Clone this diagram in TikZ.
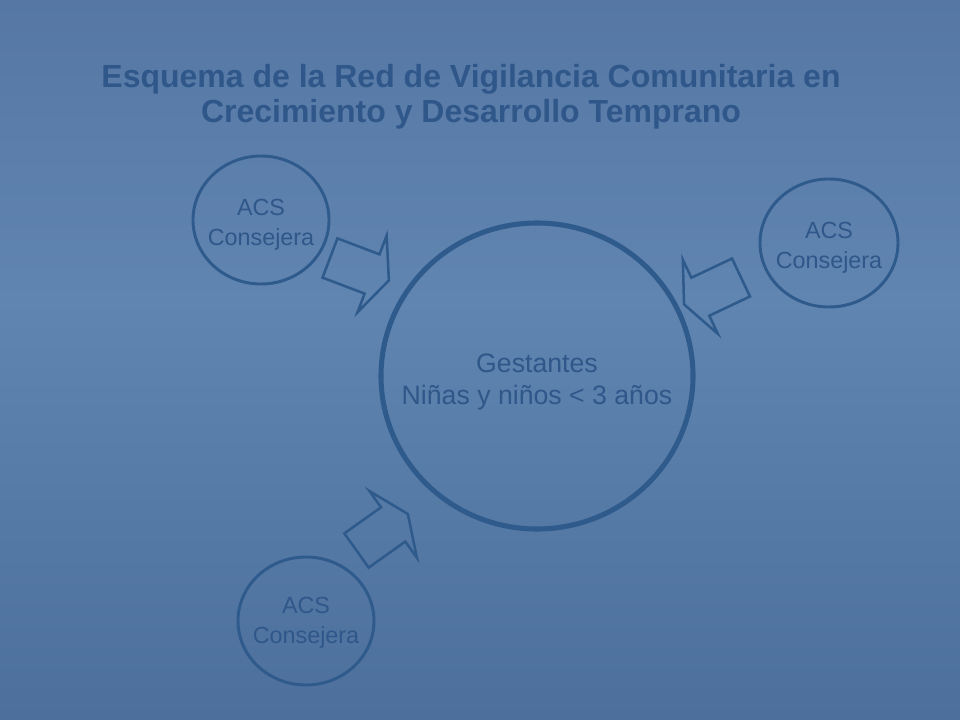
\documentclass[tikz,border=0pt]{standalone}
\usepackage{fontspec}
\setmainfont{Liberation Sans}
\usetikzlibrary{calc}
\definecolor{bgtop}{HTML}{5677A4}
\definecolor{bgmid}{HTML}{6085B0}
\definecolor{bgbot}{HTML}{4C6F9C}
\definecolor{ink}{HTML}{2F5A8C}
\definecolor{txt}{HTML}{30578A}
\tikzset{
  bigcirc/.style={draw=ink, line width=3.8pt},
  smallcirc/.style={draw=ink, line width=2.2pt},
  lbl/.style={text=txt, align=center},
  blockarrow/.style={draw=ink, line width=1.9pt, line join=miter},
}
\newcommand{\blockarrowshape}{(0,-21) -- (45,-21) -- (45,-41) -- (63,0) -- (45,41) -- (45,21) -- (0,21) -- cycle}
\begin{document}
\begin{tikzpicture}[x=0.75pt,y=-0.75pt]
\useasboundingbox (0,0) rectangle (960,720);
\shade[top color=bgtop, bottom color=bgmid] (0,0) rectangle (960,300);
\shade[top color=bgmid, bottom color=bgbot] (0,300) rectangle (960,720);

% title
\node[lbl, font=\bfseries\fontsize{24}{26.5}\selectfont] (title) at (471,97)
  {Esquema de la Red de Vigilancia Comunitaria en\\Crecimiento y Desarrollo Temprano};

% central circle
\draw[bigcirc] (537,376) ellipse (156 and 153);
\node[lbl, font=\fontsize{20}{24}\selectfont] (center) at (537,382)
  {Gestantes\\Niñas y niños < 3 años};

% small circles
\draw[smallcirc] (261,220) ellipse (68 and 64);
\node[lbl, font=\fontsize{17.5}{22.5}\selectfont] (acs1) at (261,225) {ACS\\Consejera};
\draw[smallcirc] (829,243) ellipse (69 and 64);
\node[lbl, font=\fontsize{17.5}{22.5}\selectfont] (acs2) at (829,248) {ACS\\Consejera};
\draw[smallcirc] (306,621) ellipse (68 and 64);
\node[lbl, font=\fontsize{17.5}{22.5}\selectfont] (acs3) at (306,623) {ACS\\Consejera};

% block arrows
\begin{scope}[shift={(330,258)}, rotate=-20.8]
  \draw[blockarrow] \blockarrowshape;
\end{scope}
\begin{scope}[shift={(741,277.5)}, rotate=-154.7]
  \draw[blockarrow] \blockarrowshape;
\end{scope}
\begin{scope}[shift={(356.5,550.5)}, rotate=35.4]
  \draw[blockarrow] \blockarrowshape;
\end{scope}
\end{tikzpicture}
\end{document}
